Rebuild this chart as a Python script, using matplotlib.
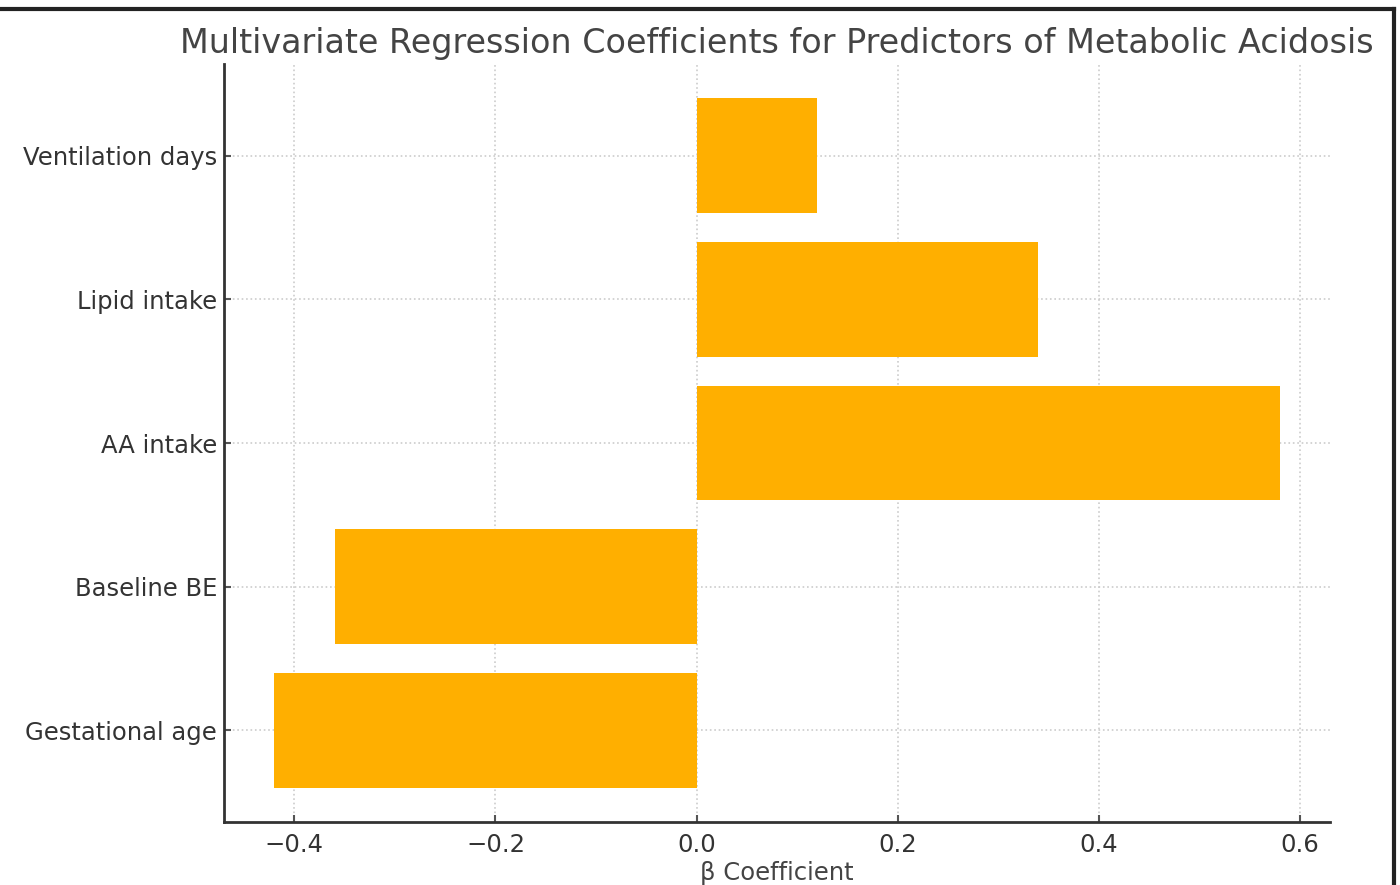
import matplotlib
matplotlib.use("Agg")
import matplotlib.pyplot as plt
from matplotlib.lines import Line2D

predictors = ["Gestational age", "Baseline BE", "AA intake", "Lipid intake", "Ventilation days"]
coefficients = [-0.42, -0.36, 0.58, 0.34, 0.12]
x_ticks = [-0.4, -0.2, 0.0, 0.2, 0.4, 0.6]

fig = plt.figure(figsize=(14, 8.85), dpi=100)
ax = fig.add_axes([224 / 1400, 1 - 822 / 885, (1330 - 224) / 1400, (822 - 64) / 885])

ax.barh(predictors, coefficients, height=0.8, color="#FFAF00", zorder=2)

ax.set_xticks(x_ticks)
ax.set_xticklabels([f"{t:.1f}".replace("-", "\u2212") for t in x_ticks])
ax.grid(True, linestyle=":", color="#cccccc", linewidth=1.2, zorder=0)
ax.set_axisbelow(True)

for side in ("top", "right"):
    ax.spines[side].set_visible(False)
for side in ("left", "bottom"):
    ax.spines[side].set_linewidth(2)
    ax.spines[side].set_color("#333333")

ax.tick_params(axis="both", direction="in", labelsize=17.5, colors="#555555",
               length=5, width=1.5, labelcolor="#333333")
ax.tick_params(axis="y", pad=5)
ax.tick_params(axis="x", pad=8)
ax.set_xlabel("β Coefficient", fontsize=17.5, color="#444444", labelpad=3)
ax.set_title("Multivariate Regression Coefficients for Predictors of Metabolic Acidosis",
             fontsize=24, color="#444444", pad=8)

# frame edges along the top and right of the canvas
fig.add_artist(Line2D([0, 1394 / 1400], [1 - 9 / 885, 1 - 9 / 885], color="#222222", linewidth=3))
fig.add_artist(Line2D([1394 / 1400, 1394 / 1400], [1 - 9 / 885, 0], color="#222222", linewidth=3))

fig.savefig("out.png", dpi=100)
